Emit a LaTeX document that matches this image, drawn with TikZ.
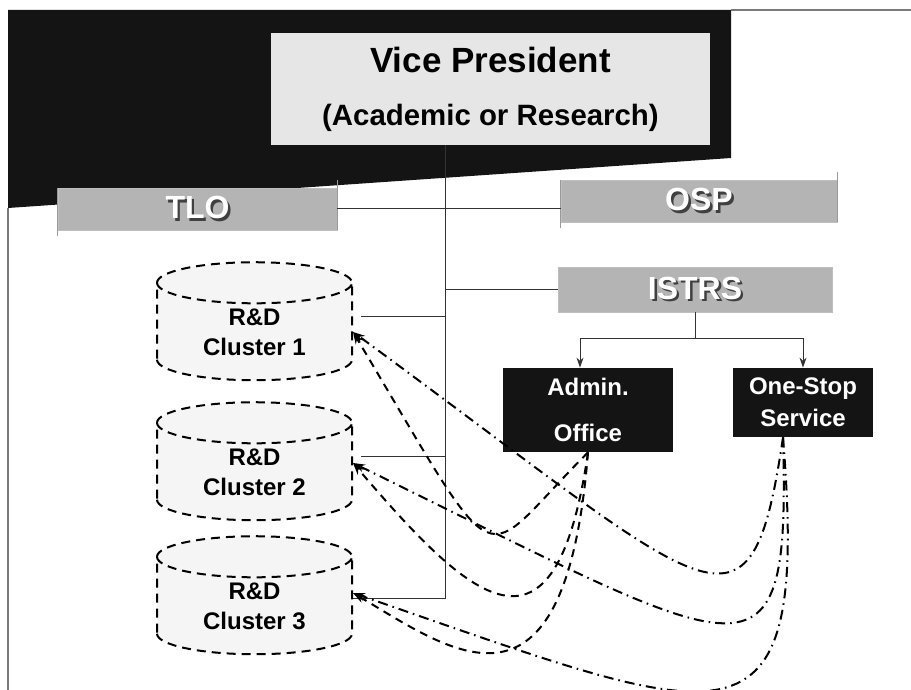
\documentclass[tikz,border=0pt]{standalone}
\usepackage{fontspec}
\setmainfont{Liberation Sans}
\usepackage{tikz}
\usetikzlibrary{shapes.geometric,arrows.meta}
\definecolor{boardblack}{HTML}{141414}
\definecolor{vpgray}{HTML}{E6E6E6}
\definecolor{bannergray}{HTML}{B4B4B4}
\definecolor{framegray}{HTML}{7A7A7A}
\newcommand{\embossed}[1]{\rlap{\textcolor{black!75}{\raisebox{-1.2pt}{\hspace{1.2pt}#1}}}\textcolor{white}{#1}}
\newcommand{\clusterbody}{\phantom{R\&D}\\\phantom{Cluster 0}}
\tikzset{banner/.style={rectangle, fill=bannergray, draw=black!25, line width=0.4pt,
    	inner sep=0pt, font=\bfseries\fontsize{16}{18}\selectfont},
    	cluster/.style={cylinder, shape border rotate=90, aspect=0.4, draw,
    	dash pattern=on 4.5pt off 3pt, line width=1pt, fill=black!4,
    	minimum width=97.5pt, minimum height=59pt, inner sep=0pt, align=center,
    	font=\bfseries\fontsize{12}{15}\selectfont},
    	clustertext/.style={align=center, yshift=0pt, font=\bfseries\fontsize{12}{15}\selectfont},
    	unit/.style={rectangle, fill=boardblack, text=white, inner sep=0pt, align=center,
    	font=\bfseries\fontsize{12}{16}\selectfont},
    	link/.style={draw=black!80, line width=0.5pt},
    	scroll/.style={draw=black!40, line width=0.6pt},
    	dashlink/.style={line width=1pt, dash pattern=on 4pt off 3pt,
    	-{Stealth[length=6pt,width=4pt]}},
    	dotlink/.style={line width=1pt, dash pattern=on 5pt off 2.5pt on 0.8pt off 2.5pt,
    	-{Stealth[length=6pt,width=4pt]}}}
\begin{document}
\begin{tikzpicture}
		[x=0.5pt,y=-0.5pt]
		\useasboundingbox (0,0) rectangle (911,690);
		% dark header and page frame
		\fill[boardblack] (8,10) -- (731,10) -- (731,158) -- (8,208) -- cycle;
		\draw[framegray, line width=0.6pt] (731,10) -- (911,10);
		\draw[framegray, line width=0.8pt] (8,208) -- (8,690);
		% offices
		\node[fill=vpgray, minimum width=219.5pt, minimum height=56pt, inner sep=0pt, align=center,
		font=\bfseries\fontsize{16}{26.5}\selectfont] (vp) at (490.5,89)
		{{\fontsize{17.5}{26.5}\selectfont Vice President}\\{\fontsize{14.7}{26.5}\selectfont (Academic or Research)}};
		\node[banner, minimum width=139.5pt, minimum height=21pt] (tlo) at (197.5,209) {\embossed{TLO}};
		\node[banner, minimum width=138pt, minimum height=21pt] (osp) at (699,201) {\embossed{OSP}};
		\node[banner, minimum width=137pt, minimum height=22.5pt] (istrs) at (695,289.5) {\embossed{ISTRS}};
		\draw[scroll] ([yshift=-3pt]tlo.south west) -- (tlo.north west);
		\draw[scroll] ([yshift=4pt]tlo.north east) -- (tlo.south east);
		\draw[scroll] ([yshift=-3pt]osp.south west) -- (osp.north west);
		\draw[scroll] ([yshift=4pt]osp.north east) -- (osp.south east);
		\node[unit, minimum width=85pt, minimum height=42pt,
		font=\bfseries\fontsize{12}{23}\selectfont] (admin) at (588,410) {Admin.\\Office};
		\node[unit, minimum width=70pt, minimum height=34.5pt] (onestop) at (803,402.5) {One-Stop\\Service};
		% clusters
		\node[cluster, label={[clustertext]center:R\&D\\Cluster 1}] (c1) at (254.5,332) {\clusterbody};
		\node[cluster, label={[clustertext]center:R\&D\\Cluster 2}] (c2) at (254.5,472) {\clusterbody};
		\node[cluster, label={[clustertext]center:R\&D\\Cluster 3}] (c3) at (254.5,606) {\clusterbody};
		\coordinate (c1tap) at ([yshift=7.5pt]c1.east);
		\coordinate (c2tap) at ([yshift=7.5pt]c2.east);
		\coordinate (c3tap) at ([yshift=3.5pt]c3.east);
		% solid lines
		\coordinate (vpfoot) at (445,145);
		\coordinate (fork) at (695,338);
		\draw[link] (vpfoot) -- (c3tap -| vpfoot) -- (c3tap);
		\draw[link] (tlo.east) -- (tlo.east -| osp.west);
		\draw[link] (istrs.west) -- (istrs.west -| vpfoot);
		\draw[link] (c1tap) ++(4pt,0) -- (c1tap -| vpfoot);
		\draw[link] (c2tap) ++(4pt,0) -- (c2tap -| vpfoot);
		\draw[link] (istrs.south) -- (fork);
		\draw[link, -{Stealth[length=5pt,width=3.5pt]}] (fork) -| ([xshift=-4pt]admin.north);
		\draw[link, -{Stealth[length=5pt,width=3.5pt]}] (fork) -| (onestop.north);
		% service flows
		\draw[dashlink] (admin.south) .. controls (475,565) and (507,590) .. (c1.east);
		\draw[dashlink] (admin.south) .. controls (555,680) and (470,600) .. ([yshift=4.5pt]c2.east);
		\draw[dashlink] (admin.south) .. controls (565,740) and (450,650) .. ([yshift=6.5pt]c3.east);
		\draw[dotlink] ([xshift=-10pt]onestop.south) .. controls (750,660) and (716,598) .. (c1.east);
		\draw[dotlink] ([xshift=-10pt]onestop.south) .. controls (790,700) and (757,661) .. ([yshift=4.5pt]c2.east);
		\draw[dotlink] ([xshift=-10pt]onestop.south) .. controls (810,770) and (730,723) .. ([yshift=6.5pt]c3.east);
		\end{tikzpicture}
\end{document}
